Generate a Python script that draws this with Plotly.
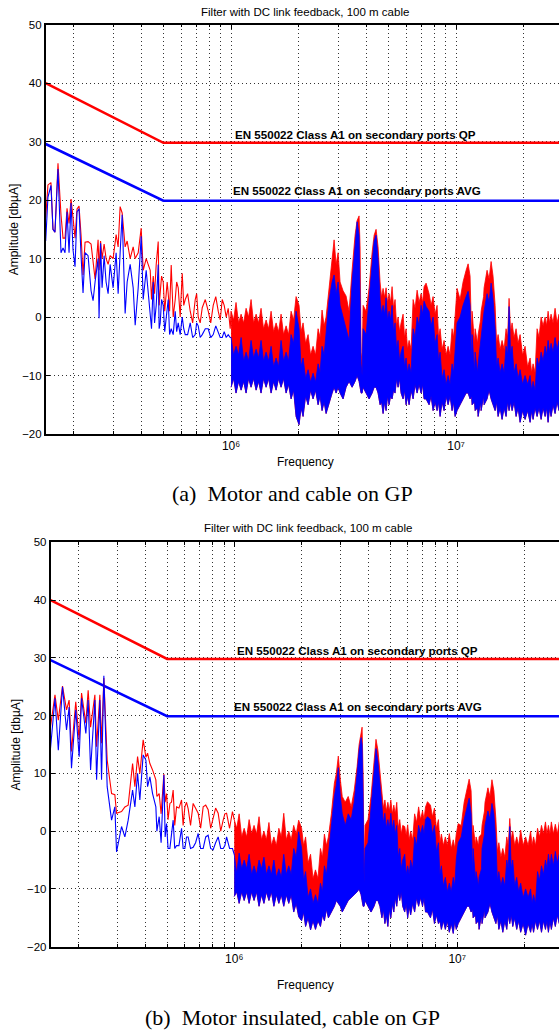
import math
import plotly.graph_objects as go

W, H = 559, 1030

# ---------------- limit lines (EN 55022 class A, secondary ports) -------------
limit_f_hz = [150e3, 500e3, 30e6]
limit_qp = [40.0, 29.8, 29.8]
limit_avg = [29.6, 19.9, 19.9]

# ---------------- panel (a): motor and cable on GP ----------------------------
a_lf_khz = [150, 153.5, 158.3, 161.6, 164.9, 170.1, 175.4, 179.1, 182.8, 186.6,
            190.5, 194.4, 198.4, 202.5, 206.7, 211.0, 215.4, 219.8, 224.4, 231.4,
            238.6, 243.6, 248.6, 256.4, 259.0, 263.0, 267.1, 272.7, 278.3, 284.1,
            290.0, 299.0, 308.4, 314.8, 321.3, 328.0, 338.2, 345.2, 356.0, 367.2,
            374.8, 386.5, 398.5, 406.8, 419.5, 437.1, 450.8, 464.8, 474.4, 484.2,
            499.3, 514.9, 525.5, 541.9, 564.6, 582.2, 606.6, 625.5, 658.3, 692.9,
            714.5, 744.4, 791.5, 833.0, 876.7, 913.3, 951.4, 991.2]
a_lf_peak = [17.0, 22.6, 23.0, 15.0, 14.5, 26.3, 17.5, 13.5, 13.5, 18.6,
             16.0, 20.2, 17.0, 13.5, 18.5, 19.0, 14.0, 7.2, 12.8, 12.9,
             12.5, 9.0, 6.5, 13.2, 8.0, 13.0, 10.0, 12.5, 10.0, 9.0,
             10.5, 10.0, 14.1, 12.0, 18.9, 17.8, 12.0, 13.0, 10.0, 12.0,
             10.0, 11.0, 15.2, 8.0, 10.0, 8.0, 7.0, 9.0, 12.9, 5.0,
             6.0, 4.0, 4.0, 8.9, 3.0, 5.0, 7.5, 3.0, 1.0, 3.0,
             0.0, 1.6, 1.0, 2.0, 1.0, 3.0, 0.0, -2.0]
a_lf_avg = [13.0, 20.5, 22.5, 15.0, 14.5, 25.3, 11.0, 11.8, 11.0, 18.0,
            11.0, 19.5, 11.5, 8.6, 18.0, 18.5, 10.5, 4.1, 11.0, 10.5,
            4.5, 2.8, 6.0, 10.0, -0.2, 12.6, 5.0, 10.5, 6.0, 4.0,
            9.0, 5.0, 11.0, 4.0, 11.0, 17.5, 0.6, 6.0, 9.0, 5.0,
            -1.4, 5.0, 13.8, 3.0, 8.0, 0.0, 6.0, 2.0, 9.0, -1.0,
            2.0, 0.0, 3.0, -2.0, 1.0, -1.0, 0.0, -3.0, -1.0, -3.0,
            -1.5, -3.0, -2.0, -3.0, -2.5, -3.5, -3.5, -3.5]
# in-between sweep points where the trace gets dense (440 kHz - 1 MHz)
a_lf_khz_dense = [443, 457, 479, 491, 507, 520, 533, 553, 573, 594,
                  616, 641, 675, 703, 729, 768, 812, 855, 895, 932, 971]
a_lf_peak_dense = [3.0, 4.0, 2.0, 7.0, 1.0, 6.0, 1.0, 0.0, 6.0, 0.0,
                   2.0, 4.0, -1.0, 4.0, -1.0, 3.0, -1.0, 3.5, -0.5, 2.0, 1.5]
a_lf_avg_dense = [-2.0, -1.0, -2.0, 3.0, -2.5, 1.0, -3.0, -3.0, -2.5, -3.0,
                  -2.0, -3.0, -3.5, -1.0, -3.5, -2.0, -3.5, -1.5, -3.5, -2.5, -3.0]

# above 1 MHz the sweep is too dense to resolve: envelopes of the band (MHz)
hf_mhz = [1.000, 1.052, 1.108, 1.166, 1.227, 1.292, 1.359, 1.431, 1.506, 1.585,
          1.668, 1.756, 1.848, 1.945, 2.005, 2.089, 2.199, 2.314, 2.436, 2.537,
          2.644, 2.727, 2.812, 2.870, 2.929, 2.990, 3.051, 3.146, 3.244, 3.345,
          3.450, 3.557, 3.631, 3.706, 3.744, 3.783, 3.822, 3.861, 3.981, 4.106,
          4.234, 4.322, 4.410, 4.501, 4.594, 4.738, 4.886, 5.038, 5.195, 5.356,
          5.523, 5.695, 5.814, 5.995, 6.182, 6.442, 6.711, 6.990, 7.208, 7.357,
          7.586, 7.903, 8.234, 8.490, 8.845, 9.214, 9.598, 9.898, 10.10, 10.42,
          10.74, 11.08, 11.31, 11.54, 11.78, 12.15, 12.53, 12.92, 13.32, 13.73,
          14.31, 14.60, 14.91, 15.37, 16.01, 16.68, 17.20, 17.74, 18.48, 19.25,
          20.26, 21.33, 21.99, 22.91, 23.87, 24.87, 25.64, 26.43, 27.54, 28.69]
# notches between the spikes of the band edges
hf_mid_mhz = [1.026, 1.080, 1.137, 1.196, 1.259, 1.325, 1.394, 1.468, 1.545, 1.626,
              1.711, 1.801, 1.896, 2.047, 2.144, 2.256, 2.374, 2.486, 2.591,
              4.665, 4.810, 4.960, 5.116, 5.275, 5.440, 5.610, 5.904, 6.088, 6.310,
              6.573, 6.848, 7.097, 7.743, 8.066, 8.360, 8.665, 9.027, 9.404, 9.747,
              11.72, 12.08, 12.46, 12.85, 13.25, 14.02, 15.14, 15.69, 16.35, 16.94,
              17.47, 18.10, 18.86, 19.75, 20.79, 21.66, 22.44, 23.38, 24.36, 25.25,
              26.04, 26.98, 28.10]

a_hf_peak_top = [1.0, 2.5, 0.5, 1.5, 3.0, 0.5, 1.5, -0.5, 1.0, -1.0,
                 0.5, -1.5, 1.0, 3.5, 2.0, -1.0, -3.0, -5.0, -2.0, 1.2,
                 0.0, 5.0, 10.5, 13.2, 9.0, 11.0, 6.0, 4.5, 3.6, 1.0,
                 8.0, 14.0, 16.5, 17.3, 12.0, -6.0, -8.0, 2.0, 1.0, 5.0,
                 11.0, 14.0, 15.0, 12.0, 6.0, 4.9, 5.0, 4.0, 5.2, 3.0,
                 0.0, -1.0, 0.5, -2.0, -4.0, 3.0, 4.6, 4.0, 5.2, 5.8,
                 4.0, 3.5, 2.0, -2.0, -4.0, -5.0, -2.0, -0.5, 4.9, 3.0,
                 6.0, 8.0, 9.1, 7.0, 1.0, -2.0, -3.0, 1.0, 5.0, 8.0,
                 9.5, 7.0, 2.0, -3.0, -4.0, -2.0, 3.2, -1.0, -2.0, -3.0,
                 -5.0, -7.0, -8.0, -2.0, 0.0, 0.0, 1.0, 0.5, 1.5, 0.5]
a_hf_avg_top = [-3.5, -5.0, -3.5, -6.0, -4.0, -5.5, -4.0, -6.0, -5.0, -7.0,
                -4.0, -6.0, -3.0, 1.0, -2.0, -7.0, -9.0, -9.6, -8.0, -5.0,
                -3.0, 3.0, 6.0, 7.2, 4.0, 6.0, 2.0, 0.0, -2.0, -4.0,
                6.0, 13.0, 16.3, 14.0, 5.0, -8.0, -10.0, -2.0, -3.0, 3.0,
                10.0, 13.0, 14.0, 10.0, 3.0, 2.0, 3.3, 1.0, 2.0, -1.0,
                -4.0, -6.0, -5.0, -7.0, -8.0, -2.0, 0.0, 2.0, 2.7, 1.8,
                1.0, 0.0, -3.0, -6.0, -9.0, -10.0, -8.0, -5.0, -1.0, 0.0,
                2.0, 3.5, 4.4, 2.0, -3.0, -6.0, -8.0, -3.0, 1.0, 4.0,
                5.8, 3.0, -2.0, -7.0, -8.0, -5.0, 1.8, -5.0, -8.0, -9.0,
                -10.0, -10.0, -11.0, -7.0, -6.0, -5.0, -4.0, -4.5, -3.5, -4.0]
a_hf_avg_bottom = [-12.0, -13.0, -12.5, -13.0, -12.0, -12.5, -13.0, -12.0, -13.0, -12.5,
                   -12.0, -13.0, -14.0, -17.0, -18.4, -17.0, -15.0, -14.0, -15.0, -16.0,
                   -16.5, -15.0, -13.0, -12.0, -13.0, -12.0, -13.0, -14.0, -12.0, -11.0,
                   -12.0, -11.0, -10.0, -11.0, -12.0, -13.0, -13.0, -12.0, -13.0, -14.0,
                   -13.0, -12.0, -12.0, -13.0, -15.0, -16.5, -16.0, -15.0, -14.0, -13.0,
                   -12.0, -13.0, -14.0, -15.0, -15.0, -14.0, -13.0, -13.0, -14.0, -14.0,
                   -15.0, -16.0, -16.0, -17.0, -16.0, -15.0, -16.0, -17.0, -16.0, -15.0,
                   -14.0, -13.0, -13.0, -14.0, -15.0, -16.0, -17.0, -16.0, -15.0, -14.0,
                   -14.0, -15.0, -16.0, -17.0, -17.5, -17.0, -16.0, -16.0, -17.0, -18.0,
                   -17.5, -18.0, -17.5, -17.0, -17.5, -17.0, -18.0, -17.0, -16.5, -16.0]
a_mid_peak_top = [-0.5, -1.0, -1.0, 0.0, -1.0, -1.0, -2.0, -2.0, -2.5, -2.5,
                  -3.0, -3.0, -0.5, -2.5, -4.5, -6.5, -6.5, -3.5, -1.5,
                  3.4, 3.4, 2.5, 2.5, 1.5, -1.5, -2.5, -3.5, -5.5, -5.5,
                  1.5, 2.5, 2.5, 2.0, 0.5, -3.5, -5.5, -6.5, -6.5, -3.5,
                  -3.5, -4.5, -4.5, -0.5, 3.5, 6.5, -4.5, -5.5, -5.5, -3.5,
                  -2.5, -3.5, -4.5, -6.5, -8.5, -9.5, -9.5, -3.5, -1.5, -1.5,
                  -1.0, -1.0, -1.0]
a_mid_avg_top = [-6.5, -6.5, -7.5, -7.5, -7.0, -7.0, -7.5, -7.5, -8.5, -8.5,
                 -7.5, -7.5, -4.5, -8.5, -10.5, -11.1, -11.1, -9.5, -6.5,
                 0.5, 0.5, -0.5, -0.5, -2.5, -5.5, -7.5, -8.5, -9.5, -9.5,
                 -3.5, -1.5, 0.5, -1.5, -4.5, -7.5, -10.5, -11.5, -11.5, -9.5,
                 -7.5, -9.5, -9.5, -4.5, -0.5, 2.5, -8.5, -9.5, -9.5, -6.5,
                 -6.5, -9.5, -10.5, -11.5, -11.5, -12.5, -12.5, -8.5, -7.5, -6.5,
                 -6.0, -6.0, -5.5]
a_mid_avg_bottom = [-10.5, -11.0, -11.0, -10.5, -10.5, -11.0, -10.5, -10.5, -11.0, -10.5,
                    -10.5, -11.5, -12.5, -15.5, -13.5, -12.5, -12.5, -13.5, -14.5,
                    -14.5, -14.5, -13.5, -13.5, -12.5, -10.5, -10.5, -12.5, -13.5, -12.5,
                    -11.5, -11.5, -11.5, -13.5, -14.5, -14.5, -14.5, -13.5, -13.5, -14.5,
                    -13.5, -14.5, -15.5, -14.5, -13.5, -12.5, -14.5, -15.5, -15.5, -14.5,
                    -14.5, -14.5, -15.5, -16.0, -16.0, -16.0, -15.5, -15.5, -15.5, -15.5,
                    -15.5, -15.0, -14.5]

# ---------------- panel (b): motor insulated, cable on GP ---------------------
b_lf_khz = [150, 157.1, 162.6, 169.8, 177.0, 181.8, 186.3, 194.7, 201.7, 206.7,
            216.1, 221.3, 226.9, 237.2, 241.4, 249.7, 254.1, 260.2, 269.3, 281.8,
            291.5, 296.7, 312.4, 323.3, 334.5, 350.1, 358.5, 368.6, 377.4, 390.5,
            401.6, 408.7, 418.5, 430.3, 445.2, 460.7, 483.6, 497.3, 514.5, 532.3,
            551.3, 580.5, 600.6, 621.4, 654.3, 689.1, 725.6, 764.0, 804.4, 847.2,
            892.2, 924.0, 982.0]
b_lf_peak = [18.1, 23.6, 19.2, 25.1, 21.0, 22.7, 13.8, 22.4, 15.8, 23.9,
             18.7, 24.4, 18.0, 23.6, 14.6, 23.6, 15.2, 26.5, 12.3, 6.5,
             6.3, 3.1, 3.4, 4.2, 4.5, 11.7, 7.7, 12.9, 10.0, 15.8,
             12.8, 13.5, 11.7, 10.6, 8.9, 6.5, 9.9, 6.5, 4.8, 7.1,
             4.2, 5.4, 4.2, 3.9, 4.8, 3.1, 4.2, 3.7, 2.5, 3.1,
             1.9, 3.1, 3.4]
b_lf_avg = [14.3, 23.0, 14.0, 25.0, 17.5, 21.5, 10.9, 21.0, 12.9, 23.0,
            16.9, 22.7, 10.6, 22.7, 8.9, 22.7, 8.9, 26.9, 7.7, 1.9,
            4.2, -3.6, 0.8, -1.0, 1.9, 7.1, 4.2, 10.0, 5.4, 13.2,
            12.3, 7.7, 9.4, 6.5, 4.2, 2.5, 9.7, 1.3, -3.0, 1.9,
            -2.5, 0.5, -3.0, -1.0, -2.8, -0.4, -3.0, -0.7, -3.2, -1.0,
            -3.0, -1.0, -3.0]
b_lf_khz_dense = [450, 470, 490, 505, 523, 541, 565, 590, 611, 637,
                  671, 707, 745, 784, 825, 870, 908, 953]
b_lf_peak_dense = [6.0, 3.0, 5.0, 2.0, 5.0, 1.0, 4.0, 1.0, 5.0, 1.0,
                   4.0, 0.5, 4.5, 0.5, 4.0, 0.0, 3.0, 0.5]
b_lf_avg_dense = [0.0, -2.0, -1.0, -3.0, -1.0, -3.0, -2.5, -3.0, -1.0, -3.0,
                  -2.0, -3.0, -1.0, -3.0, -2.0, -3.0, -2.5, -3.0]

b_hf_peak_top = [2.0, 3.0, 0.5, 2.0, 1.0, 2.5, 0.0, 1.5, -1.0, 0.5,
                 3.1, 0.0, 1.0, 1.9, 0.5, -1.0, -4.0, -6.7, -3.0, -0.5,
                 -1.0, 3.0, 8.3, 10.0, 13.0, 9.0, 6.0, 5.0, 6.0, 4.2,
                 7.0, 11.2, 15.0, 17.0, 18.0, 10.0, -6.0, 1.0, 2.0, 6.0,
                 12.0, 15.9, 14.0, 10.0, 6.0, 5.4, 5.0, 5.4, 4.5, 5.0,
                 2.0, 1.0, 0.8, 1.1, 0.0, 3.0, 4.2, 3.5, 4.2, 5.1,
                 4.5, 4.0, 2.0, -0.5, -1.0, -0.4, -1.5, -0.5, 1.3, 1.0,
                 5.0, 7.5, 9.0, 7.0, 1.0, -1.0, -1.0, 1.0, 5.0, 7.5,
                 8.9, 7.0, 2.0, -2.0, -3.0, -1.0, 2.2, 0.0, -1.0, 0.2,
                 -1.0, 0.0, -1.0, 0.5, 1.0, 1.6, 1.0, 1.6, 1.2, 1.6]
b_hf_avg_top = [-4.0, -3.8, -5.0, -4.0, -6.0, -5.0, -4.5, -6.0, -5.0, -6.5,
                -4.0, -6.0, -3.0, -0.1, -3.0, -7.0, -10.0, -11.0, -9.0, -6.0,
                -4.0, 1.0, 6.0, 8.0, 11.0, 6.0, 3.0, 1.0, 3.0, 2.0,
                5.0, 10.0, 14.0, 16.2, 15.0, 6.0, -9.0, -3.0, -2.0, 4.0,
                10.0, 14.3, 12.0, 8.0, 3.0, 3.1, 2.0, 3.1, 1.9, 1.0,
                -3.0, -5.0, -4.0, -6.0, -5.0, -1.0, 1.0, 1.0, 2.0, 2.5,
                2.0, 1.0, -2.0, -6.0, -8.0, -9.0, -8.0, -5.0, -2.0, -1.0,
                2.0, 4.0, 5.7, 3.0, -3.0, -7.0, -8.0, -3.0, 1.0, 3.5,
                4.8, 3.0, -2.0, -7.0, -8.0, -5.0, 0.8, -5.0, -8.0, -9.0,
                -10.0, -10.0, -11.0, -7.0, -6.0, -5.0, -4.0, -4.0, -3.5, -4.0]
b_hf_avg_bottom = [-11.3, -12.5, -12.0, -12.5, -12.0, -13.0, -12.5, -12.0, -13.0, -12.5,
                   -13.0, -12.5, -14.0, -14.8, -15.5, -16.5, -17.1, -17.0, -16.5, -15.5,
                   -15.0, -14.0, -13.0, -12.0, -12.5, -13.0, -14.0, -13.0, -12.0, -11.5,
                   -11.0, -10.5, -10.0, -11.0, -12.0, -13.0, -13.0, -12.0, -13.0, -14.0,
                   -13.0, -12.0, -12.0, -13.0, -15.0, -16.0, -16.5, -15.0, -14.0, -13.0,
                   -12.0, -13.0, -14.0, -15.0, -14.5, -14.0, -13.0, -13.0, -14.0, -14.0,
                   -15.0, -16.0, -16.0, -17.0, -17.0, -17.5, -17.7, -17.0, -16.0, -15.0,
                   -14.0, -13.0, -13.0, -14.0, -15.0, -16.0, -17.0, -16.0, -15.0, -14.0,
                   -14.0, -15.0, -16.0, -17.0, -17.5, -17.0, -16.0, -16.5, -17.0, -17.5,
                   -18.0, -17.5, -17.5, -17.0, -17.5, -17.0, -17.5, -17.0, -16.5, -16.0]
b_mid_peak_top = [0.5, -1.0, -1.0, -0.5, -0.5, -1.5, -1.5, -2.5, -2.5, -1.0,
                  -1.5, -1.5, -0.5, -2.5, -5.5, -8.2, -8.2, -4.5, -2.5,
                  4.0, 3.5, 3.5, 3.0, 3.0, 0.5, -0.5, -0.7, -1.5, -1.5,
                  1.5, 2.0, 2.0, 2.5, 0.5, -2.0, -2.5, -2.5, -3.0, -3.0,
                  -1.5, -2.5, -2.5, -0.5, 3.5, 6.0, -3.5, -4.5, -4.5, -2.5,
                  -1.5, -2.5, -2.5, -2.5, -2.5, -2.5, -2.5, -1.0, -0.5, -0.5,
                  -0.5, -0.5, -0.5]
b_mid_avg_top = [-7.3, -6.5, -6.5, -7.5, -7.5, -6.5, -7.5, -7.5, -8.0, -8.0,
                 -7.5, -7.5, -4.5, -8.5, -11.5, -12.5, -12.5, -10.5, -7.5,
                 1.5, 0.5, 0.5, 0.4, -0.5, -4.5, -6.5, -7.5, -7.5, -6.5,
                 -2.5, -0.5, -0.5, -0.5, -3.5, -7.5, -9.5, -10.5, -10.5, -9.5,
                 -7.5, -8.5, -9.5, -6.5, -0.5, 2.0, -8.5, -9.5, -9.5, -6.5,
                 -6.5, -9.5, -10.5, -11.5, -11.5, -12.5, -12.5, -8.5, -7.5, -6.5,
                 -6.0, -6.0, -5.5]
b_mid_avg_bottom = [-10.5, -10.5, -10.5, -10.5, -10.5, -11.0, -10.5, -10.5, -11.0, -11.0,
                    -11.0, -11.0, -12.5, -14.0, -15.0, -15.5, -15.5, -14.5, -13.5,
                    -13.5, -14.5, -13.5, -12.5, -11.5, -10.5, -10.5, -12.5, -13.0, -12.5,
                    -11.5, -11.5, -11.5, -13.5, -14.5, -15.5, -15.5, -15.5, -16.0, -15.5,
                    -13.5, -14.5, -15.5, -14.5, -13.5, -12.5, -14.5, -15.5, -15.5, -14.5,
                    -14.5, -15.0, -15.5, -16.0, -16.0, -16.0, -15.5, -15.5, -15.5, -15.5,
                    -15.5, -15.0, -14.5]

# ---------------- text --------------------------------------------------------
plot_title = "Filter with DC link feedback, 100 m cable"
qp_label = "EN 550022 Class A1 on secondary ports QP"
avg_label = "EN 550022 Class A1 on secondary ports AVG"
x_title = "Frequency"
y_title = "Amplitude [dbµA]"
captions = ["(a)  Motor and cable on GP", "(b)  Motor insulated, cable on GP"]
decade_labels = ["10\u2076", "10\u2077"]

RED = "#ff0000"
BLUE = "#0000ff"
SANS = "Liberation Sans, Arial, sans-serif"
SERIF = "Liberation Serif, Times New Roman, serif"


def merged(*cols_pairs):
    """Merge several column sets (first column = frequency) into one sorted trace."""
    n = len(cols_pairs[0])
    rows = []
    for cols in cols_pairs:
        rows.extend(zip(*cols))
    rows.sort()
    return [[r[k] for r in rows] for k in range(n)]


# pixel layout of the two axes boxes: (left, top, bottom) and px per decade
panels = [
    dict(left=45.7, top=24.7, bottom=434.0, decade=225.0,
         lf=merged((a_lf_khz, a_lf_peak, a_lf_avg),
                   (a_lf_khz_dense, a_lf_peak_dense, a_lf_avg_dense)),
         hf=merged((hf_mhz, a_hf_peak_top, a_hf_avg_top, a_hf_avg_bottom),
                   (hf_mid_mhz, a_mid_peak_top, a_mid_avg_top, a_mid_avg_bottom)),
         title_xy=(305, 12), qp_xy=(355.5, 135), avg_xy=(356.5, 191),
         xlab_y=462, cap_y=494, ylab_x=14),
    dict(left=50.5, top=542.3, bottom=946.7, decade=223.0,
         lf=merged((b_lf_khz, b_lf_peak, b_lf_avg),
                   (b_lf_khz_dense, b_lf_peak_dense, b_lf_avg_dense)),
         hf=merged((hf_mhz, b_hf_peak_top, b_hf_avg_top, b_hf_avg_bottom),
                   (hf_mid_mhz, b_mid_peak_top, b_mid_avg_top, b_mid_avg_bottom)),
         title_xy=(308, 528), qp_xy=(357.3, 650), avg_xy=(358.3, 706),
         xlab_y=985, cap_y=1017, ylab_x=15),
]

minor_vals = [m * 10 ** e for e in (5, 6, 7) for m in range(2, 10)
              if 1.5e5 < m * 10 ** e <= 3e7]

fig = go.Figure()
annotations = []
layout_axes = {}
GRID = "rgba(0,0,0,0.8)"
GRID_DASH = "1px,3px"

for i, p in enumerate(panels):
    n = "" if i == 0 else str(i + 1)
    xa, ya = "x" + n, "y" + n
    lo = math.log10(1.5e5)
    hi = lo + (W - p["left"]) / p["decade"]
    layout_axes["xaxis" + n] = dict(
        type="log", domain=[p["left"] / W, 1.0], range=[lo, hi], anchor=ya,
        tickmode="array", tickvals=[1e6, 1e7], ticktext=decade_labels,
        ticks="inside", ticklen=5, tickwidth=1, tickcolor="black",
        showgrid=True, gridcolor=GRID, griddash=GRID_DASH, gridwidth=1,
        minor=dict(tickmode="array", tickvals=minor_vals, ticks="inside",
                   ticklen=3, tickcolor="black", showgrid=True,
                   gridcolor=GRID, griddash=GRID_DASH, gridwidth=1),
        showline=True, linecolor="black", linewidth=1.5, mirror="allticks",
        tickfont=dict(family=SANS, size=12, color="black"), zeroline=False,
        automargin=False,
    )
    layout_axes["yaxis" + n] = dict(
        domain=[1 - p["bottom"] / H, 1 - p["top"] / H], range=[-20, 50],
        anchor=xa, tickvals=[-20, -10, 0, 10, 20, 30, 40, 50],
        ticktext=["\u221220", "\u221210", "0", "10", "20", "30", "40", "50"],
        ticks="inside", ticklen=5, tickcolor="black",
        showgrid=True, gridcolor=GRID, griddash=GRID_DASH, gridwidth=1,
        showline=True, linecolor="black", linewidth=1.5, mirror=False,
        tickfont=dict(family=SANS, size=11.5, color="black"), zeroline=False,
        automargin=False,
    )

    # limit lines
    fig.add_trace(go.Scatter(x=limit_f_hz, y=limit_qp, mode="lines",
                             line=dict(color=RED, width=2.6), xaxis=xa, yaxis=ya,
                             hoverinfo="skip"))
    fig.add_trace(go.Scatter(x=limit_f_hz, y=limit_avg, mode="lines",
                             line=dict(color=BLUE, width=2.6), xaxis=xa, yaxis=ya,
                             hoverinfo="skip"))

    lf_khz, lf_peak, lf_avg = p["lf"]
    hf_f, hf_peak_top, hf_avg_top, hf_avg_bottom = p["hf"]
    lf_hz = [f * 1e3 for f in lf_khz]
    hf_hz = [f * 1e6 for f in hf_f]
    band_x = hf_hz + hf_hz[::-1]

    # peak detector: red line below 1 MHz, dense band above
    fig.add_trace(go.Scatter(x=lf_hz + hf_hz[:1], y=lf_peak + hf_peak_top[:1],
                             mode="lines", line=dict(color=RED, width=1.1),
                             xaxis=xa, yaxis=ya, hoverinfo="skip"))
    fig.add_trace(go.Scatter(x=band_x, y=hf_peak_top + hf_avg_bottom[::-1],
                             mode="lines", fill="toself", fillcolor=RED,
                             line=dict(color=RED, width=0.8), xaxis=xa, yaxis=ya,
                             hoverinfo="skip"))
    # average detector
    fig.add_trace(go.Scatter(x=lf_hz + hf_hz[:1], y=lf_avg + hf_avg_top[:1],
                             mode="lines", line=dict(color=BLUE, width=1.1),
                             xaxis=xa, yaxis=ya, hoverinfo="skip"))
    fig.add_trace(go.Scatter(x=band_x, y=hf_avg_top + hf_avg_bottom[::-1],
                             mode="lines", fill="toself", fillcolor=BLUE,
                             line=dict(color=BLUE, width=0.8), xaxis=xa, yaxis=ya,
                             hoverinfo="skip"))

    def txt(text, x, y, size, weight="normal", family=SANS, angle=0):
        annotations.append(dict(
            text=text, x=x / W, y=1 - y / H,
            xref="paper", yref="paper", showarrow=False, textangle=angle,
            xanchor="center", yanchor="middle",
            font=dict(family=family, size=size, color="black", weight=weight)))

    txt(plot_title, p["title_xy"][0], p["title_xy"][1], 11.5)
    txt(qp_label, p["qp_xy"][0], p["qp_xy"][1], 11.6, weight="bold")
    txt(avg_label, p["avg_xy"][0], p["avg_xy"][1], 11.6, weight="bold")
    txt(x_title, 305, p["xlab_y"], 12)
    txt(y_title, p["ylab_x"], (p["top"] + p["bottom"]) / 2, 12, angle=-90)
    txt(captions[i], 292.5, p["cap_y"], 22, family=SERIF)

fig.update_layout(
    width=W, height=H, margin=dict(l=0, r=0, t=0, b=0),
    paper_bgcolor="white", plot_bgcolor="white", showlegend=False,
    annotations=annotations, **layout_axes,
)

fig.write_html("out.html")
